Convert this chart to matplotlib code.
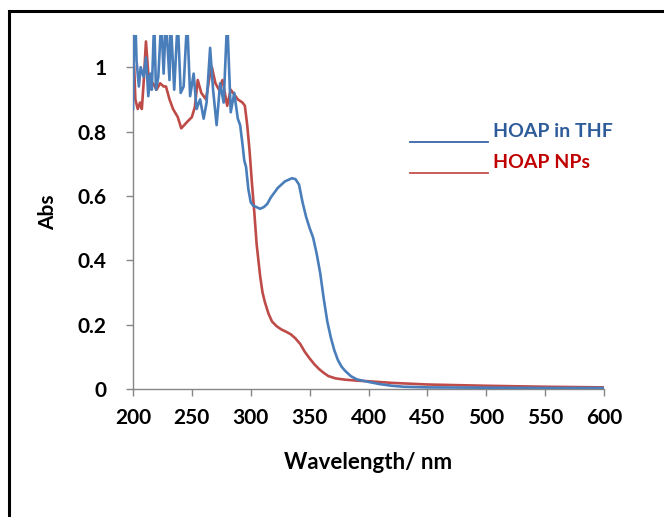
import matplotlib
matplotlib.use("Agg")
import matplotlib.pyplot as plt
from matplotlib.patches import Rectangle
from matplotlib.lines import Line2D

# HOAP in THF (blue)
thf_wl = [200, 201, 202, 203, 205, 206.5, 209, 211, 213, 214.5, 216, 218, 219.5, 221.5, 224, 226,
          228, 231, 232, 235, 238, 240.5, 243, 246, 248.5, 251.5, 254, 257, 260, 262.5, 265.5, 268,
          271, 274, 277, 280, 283, 286, 289, 291, 293, 294.5, 296, 298, 300, 302, 305, 308,
          311, 314, 317, 320, 323, 326, 329, 332, 335, 338, 341, 344, 347, 350, 353, 356,
          359, 362, 365, 368, 371, 374, 377, 380, 385, 390, 400, 410, 420, 430, 450, 500,
          550, 600]
thf_abs = [0.87, 1.15, 1.15, 1.02, 0.94, 1.00, 0.97, 1.03, 0.91, 0.98, 0.93, 1.15, 0.93, 0.97, 1.15, 0.98,
           1.15, 0.96, 1.15, 0.93, 1.15, 0.92, 0.94, 1.15, 0.91, 0.98, 0.87, 0.90, 0.84, 0.89, 1.06, 0.93,
           0.82, 0.95, 0.89, 1.15, 0.86, 0.92, 0.84, 0.82, 0.76, 0.71, 0.69, 0.62, 0.58, 0.57, 0.565, 0.56,
           0.565, 0.575, 0.595, 0.61, 0.625, 0.635, 0.645, 0.65, 0.655, 0.652, 0.635, 0.58, 0.535, 0.50,
           0.47, 0.42, 0.36, 0.28, 0.21, 0.16, 0.12, 0.09, 0.07, 0.057, 0.04, 0.03, 0.022, 0.015,
           0.010, 0.007, 0.005, 0.004, 0.003, 0.003]

# HOAP NPs (red)
np_wl = [200, 201, 202, 204, 206, 207.5, 209, 211, 214, 217, 220, 223, 226, 228, 231, 234,
         238, 241, 246, 250, 252.5, 255, 258, 262, 265, 267, 270, 273, 276, 280, 283, 285,
         289, 293, 295, 297, 299, 301, 303, 305, 308, 310, 312, 315, 318, 322, 326, 330,
         334, 338, 342, 346, 350, 354, 358, 362, 366, 372, 380, 390, 400, 420, 450, 500,
         550, 600]
np_abs = [1.02, 1.0, 0.9, 0.87, 0.89, 0.87, 0.95, 1.08, 0.93, 0.95, 0.93, 0.95, 0.94, 0.94, 0.90, 0.87,
          0.845, 0.81, 0.83, 0.845, 0.876, 0.96, 0.92, 0.90, 0.97, 1.0, 0.95, 0.93, 0.96, 0.88, 0.93, 0.92,
          0.90, 0.89, 0.88, 0.82, 0.74, 0.64, 0.55, 0.45, 0.35, 0.30, 0.27, 0.235, 0.21, 0.195, 0.185, 0.178,
          0.17, 0.157, 0.14, 0.115, 0.095, 0.077, 0.062, 0.05, 0.04, 0.033, 0.029, 0.026, 0.024, 0.019,
          0.014, 0.010, 0.007, 0.005]

x_ticks = [200, 250, 300, 350, 400, 450, 500, 550, 600]
y_ticks = [0, 0.2, 0.4, 0.6, 0.8, 1]
y_labels = ["0", "0.2", "0.4", "0.6", "0.8", "1"]
legend_labels = ["HOAP in THF", "HOAP NPs"]

plt.rcParams['font.family'] = ['Lato', 'DejaVu Sans']

fig = plt.figure(figsize=(6.64, 5.17), dpi=100)
ax = fig.add_axes([133/664, 1 - 389/517, 471/664, 354/517])

blue = '#4A7EBB'
red = '#BE4B48'
ax.plot(thf_wl, thf_abs, color=blue, lw=1.9, zorder=3)
ax.plot(np_wl, np_abs, color=red, lw=1.9, zorder=2)

ax.set_xlim(200, 600)
ax.set_ylim(0, 1.1)
ax.set_xticks(x_ticks)
ax.set_xticklabels([str(t) for t in x_ticks])
ax.set_yticks(y_ticks)
ax.set_yticklabels(y_labels)

for s in ['top', 'right']:
    ax.spines[s].set_visible(False)
for s in ['left', 'bottom']:
    ax.spines[s].set_color('#868686')
    ax.spines[s].set_linewidth(1.0)

ax.tick_params(axis='x', direction='out', length=5, width=1, color='#868686',
               pad=9, labelsize=15)
ax.tick_params(axis='y', direction='out', length=5, width=1, color='#868686',
               pad=14, labelsize=15)
for lab in ax.get_xticklabels() + ax.get_yticklabels():
    lab.set_fontweight('bold')

ax.set_xlabel("Wavelength/ nm", fontsize=16, fontweight='bold', labelpad=17)
ax.set_ylabel("Abs", fontsize=15, fontweight='bold', labelpad=14)

leg_colors = ['#2E5B9A', '#C00000']
leg_line_colors = ['#3A66A8', '#C0504D']
leg_y = [132, 163]
for lab, tc, lc, yy in zip(legend_labels, leg_colors, leg_line_colors, leg_y):
    fig.text(493/664, 1 - yy/517, lab, color=tc, fontsize=14,
             fontweight='bold', va='center', ha='left')
    fig.lines.append(Line2D([410/664, 488/664], [1 - (yy + 10)/517] * 2,
                            transform=fig.transFigure, color=lc, lw=1.3))

fig.patches.append(Rectangle((9/664, -0.1), 1.2, 1 - 11/517 + 0.1, transform=fig.transFigure,
                             fill=False, edgecolor='black', lw=2.2))

fig.savefig("out.png", dpi=100)
